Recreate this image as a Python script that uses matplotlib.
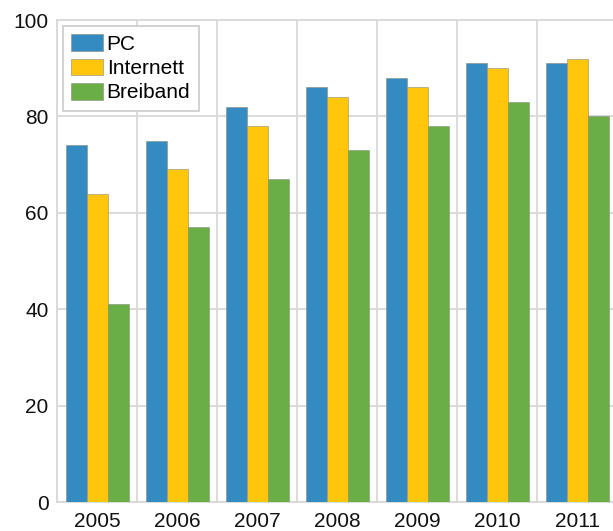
import numpy as np
import matplotlib.pyplot as plt

plt.rcParams['font.family'] = ['Liberation Sans', 'DejaVu Sans']

years = ['2005', '2006', '2007', '2008', '2009', '2010', '2011']
pc = [74, 75, 82, 86, 88, 91, 91]
internett = [64, 69, 78, 84, 86, 90, 92]
breiband = [41, 57, 67, 73, 78, 83, 80]

series = [('PC', pc, '#348bc1'), ('Internett', internett, '#ffc60b'), ('Breiband', breiband, '#6aaf45')]

fig = plt.figure(figsize=(6.13, 5.31), dpi=100)
ax = fig.add_axes([57 / 613, 29 / 531, 560 / 613, 482 / 531])

x = np.arange(len(years))
w = 0.2625
for i, (name, vals, col) in enumerate(series):
    ax.bar(x + (i - 1) * w, vals, w, color=col, edgecolor='#8a8a7a', linewidth=0.4, label=name, zorder=3)

ax.set_xlim(-0.5, len(years) - 0.5)
ax.set_ylim(0, 100)
ax.set_yticks([0, 20, 40, 60, 80, 100])
ax.set_xticks(x)
ax.set_xticklabels(years)
ax.set_xticks(np.arange(len(years) + 1) - 0.5, minor=True)
ax.tick_params(axis='both', which='both', length=0, labelsize=15, colors='#111111')
ax.tick_params(axis='y', pad=6)
ax.tick_params(axis='x', pad=7)
ax.grid(axis='y', which='major', color='#d8d8d8', linewidth=1.3, zorder=0)
ax.grid(axis='x', which='minor', color='#d8d8d8', linewidth=1.3, zorder=0)
for s in ax.spines.values():
    s.set_color('#d8d8d8')
    s.set_linewidth(1.3)

leg = ax.legend(loc='upper left', bbox_to_anchor=(6 / 560, 1 - 6 / 482), borderaxespad=0,
                fontsize=15, fancybox=False, edgecolor='#cfcfcf', framealpha=1,
                handlelength=1.5, handleheight=0.87, handletextpad=0.2,
                labelspacing=0.22, borderpad=0.4)
leg.get_frame().set_linewidth(1.3)

fig.savefig('out.png', dpi=100)
